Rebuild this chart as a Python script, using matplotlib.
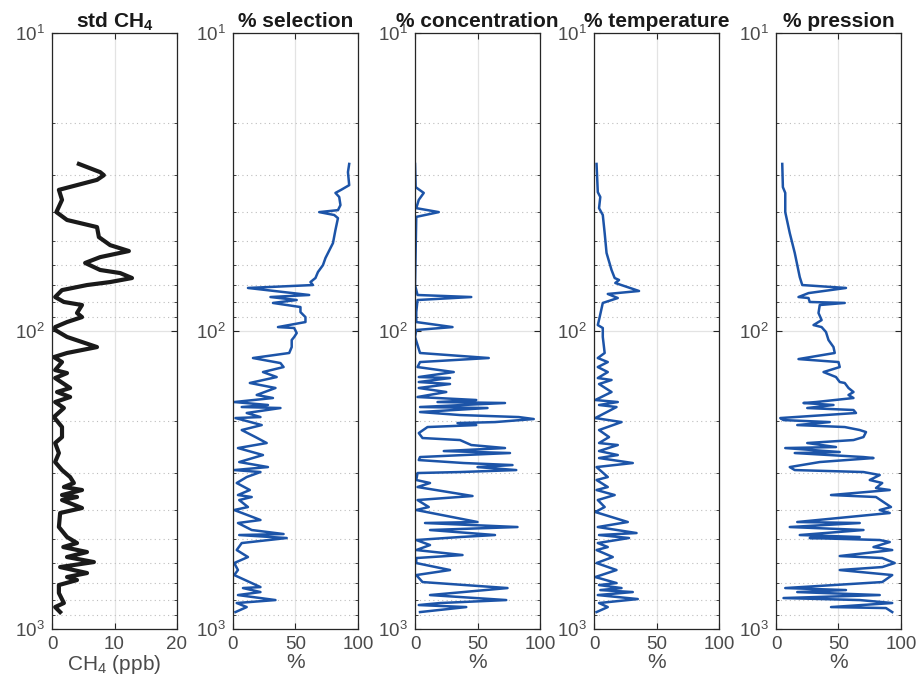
import matplotlib
matplotlib.use('Agg')
import matplotlib.pyplot as plt
from matplotlib.ticker import LogLocator, NullFormatter

plt.rcParams['font.family'] = ['Liberation Sans', 'DejaVu Sans']
plt.rcParams['mathtext.fontset'] = 'custom'
plt.rcParams['mathtext.rm'] = 'Liberation Sans'
plt.rcParams['mathtext.bf'] = 'Liberation Sans:bold'

# pressure levels (hPa) and values
p_std = [27.5, 29.3, 30.0, 31.1, 33.6, 36.3, 39.9, 42.4, 44.8, 48.4, 51.5, 53.9, 56.5,
         59.1, 62.4, 63.9, 66.4, 68.5, 70.1, 72.9, 76.9, 79.9, 81.8, 87.0, 89.8, 93.3,
         97.0, 99.2, 104.7, 113.2, 118.5, 122.3, 127.1, 135.2, 138.4, 143.8, 155.3,
         160.2, 166.5, 173.1, 181.3, 194.4, 210.0, 226.9, 237.6, 256.7, 275.2, 292.8,
         309.0, 323.6, 333.8, 341.6, 355.1, 360.6, 369.1, 392.6, 408.0, 454.7, 491.2,
         514.6, 530.7, 551.6, 573.3, 596.0, 619.5, 648.8, 669.2, 684.9, 711.9, 757.3,
         818.0, 843.9, 877.2]
std_ch4 = [4.3, 7.7, 8.3, 7.2, 1.1, 1.6, 0.7, 2.4, 7.2, 7.5, 9.3, 12.3, 7.7,
           5.3, 7.7, 10.9, 12.8, 9.3, 5.6, 1.6, 0.5, 1.9, 4.8, 4.0, 4.8, 2.4,
           0.5, 0.5, 2.4, 7.2, 2.4, 0.3, 1.6, 0.5, 2.4, 0.5, 2.9,
           0.8, 2.9, 0.5, 1.9, 0.3, 1.6, 1.6, 0.5, 1.1, 0.5, 1.6,
           2.9, 3.5, 1.9, 4.8, 1.6, 4.0, 1.6, 4.8, 1.3, 1.1, 2.4,
           4.0, 1.8, 5.6, 2.4, 6.7, 1.3, 5.6, 2.4, 4.0, 1.1, 1.1,
           1.9, 0.5, 1.3]

p_sel = [27.5, 29.3, 32.4, 33.6, 34.4, 35.5, 37.8, 39.3, 39.9, 40.8, 41.8, 45.8, 50.7,
         56.9, 60.1, 63.4, 66.4, 68.5, 70.1, 71.7, 75.7, 76.9, 78.7, 80.5, 83.1, 86.4,
         89.8, 93.3, 97.0, 97.7, 101.6, 104.7, 107.2, 113.2, 118.5, 123.2, 128.1, 132.1,
         137.3, 142.7, 149.4, 155.3, 163.9, 167.8, 173.1, 177.1, 179.9, 181.3, 188.4,
         194.4, 195.9, 206.8, 214.9, 226.9, 237.6, 247.0, 260.7, 275.2, 286.1, 292.8,
         297.3, 309.0, 323.6, 341.6, 355.1, 360.6, 369.1, 389.6, 398.7, 430.7, 440.8,
         465.3, 480.0, 483.7, 495.0, 514.6, 543.2, 573.3, 600.6, 633.9, 659.0, 723.1,
         728.6, 751.5, 769.1, 799.4, 818.0, 843.9, 877.2]
selection = [93, 92, 93, 86.5, 82, 85, 86, 84, 69, 81, 84, 82, 80,
             74, 72, 68, 66, 62, 64, 12, 61, 30, 51, 32, 54, 54,
             58, 58, 36, 49, 51, 49, 47, 47, 45, 16, 38, 40.5,
             24, 35, 13.5, 34, 19, 32, 1, 28, 7, 38, 11,
             22, 2, 23, 7, 18, 27, 4, 24, 5, 28, 1,
             22, 11, 3, 13.5, 4, 15, 5, 12, 1, 22, 4,
             15, 40.5, 5, 43, 7, 3, 12, 1, 4, 1, 22,
             8, 22, 4, 34, 3, 11, 2]

p_conc = [27.5, 32.9, 34.4, 36.3, 38.7, 39.9, 41.4, 70.1, 75.7, 76.9, 78.7, 86.4, 93.3,
          97.0, 99.2, 104.7, 118.5, 123.2, 127.1, 132.1, 137.3, 142.7, 143.8, 148.3,
          150.6, 155.3, 160.2, 166.5, 170.4, 173.1, 174.4, 179.9, 181.3, 187.0, 191.4,
          194.4, 197.4, 202.1, 203.6, 206.8, 210.0, 220.0, 228.6, 232.2, 241.3, 247.0,
          252.8, 256.7, 260.7, 264.8, 271.0, 277.3, 281.7, 286.1, 292.8, 297.3, 299.6,
          316.2, 323.6, 333.8, 357.8, 369.1, 389.6, 398.7, 437.4, 440.8, 454.7, 465.3,
          483.7, 491.2, 502.7, 522.6, 543.2, 564.5, 577.8, 600.6, 633.9, 659.0, 695.6,
          728.6, 769.1, 799.4, 818.0, 830.8, 843.9, 877.2]
concentration = [0, 0.5, 7, 3, 1, 19, 1, 0, 2, 45, 2, 1, 1,
                 30, 1, 0, 4, 59, 4, 2, 31, 3, 28, 3,
                 28, 3, 25, 2, 49, 18, 72, 4, 58, 4, 36,
                 83, 95, 64, 34, 49, 10, 3, 6, 36, 45, 72,
                 23, 76, 39, 4, 3, 39, 78, 50, 81, 36, 2,
                 1, 12, 2, 46, 2, 11, 1, 50, 8, 82, 12,
                 64, 36, 1, 12, 1, 38, 1, 1, 28, 1, 6,
                 74, 12, 73, 20, 3, 41, 4]

p_temp = [27.5, 34.2, 35.5, 38.7, 40.8, 46.9, 54.7, 62.4, 66.4, 67.4, 69.0, 73.4, 75.1,
          77.5, 80.5, 89.8, 95.5, 97.7, 104.7, 118.5, 123.2, 127.1, 132.1, 137.3, 143.8,
          146.0, 150.6, 160.2, 170.4, 173.1, 177.1, 179.9, 195.9, 202.1, 214.9, 226.9,
          237.6, 241.3, 252.8, 260.7, 266.8, 277.3, 286.1, 309.0, 316.2, 333.8, 341.6,
          355.1, 369.1, 389.6, 404.9, 437.4, 454.7, 476.3, 483.7, 495.0, 514.6, 530.7,
          543.2, 573.3, 600.6, 633.9, 669.2, 701.0, 711.9, 728.6, 740.0, 751.5, 769.1,
          793.2, 818.0, 843.9, 877.2]
temperature = [2, 3, 5, 4, 7, 8.5, 10, 14, 16.5, 20, 17, 36, 11,
               19, 7, 4.5, 3, 7, 7, 8.5, 3, 11, 3, 11, 3,
               14, 4, 14, 1, 19, 4, 18, 1, 22, 4, 12,
               4, 19, 4, 19, 4, 31, 2, 11, 2, 11, 2,
               16.5, 3, 8.5, 1, 27, 3, 34, 4, 28, 3, 11,
               2, 15, 2, 18, 1, 18, 4, 22, 5, 31, 3,
               35, 4, 11, 2]

p_pres = [27.5, 32.9, 34.4, 39.9, 46.9, 54.7, 65.9, 70.1, 71.7, 74.6, 76.9, 77.5, 79.9,
          80.5, 81.8, 87.0, 91.9, 95.5, 97.0, 100.8, 107.2, 113.2, 118.5, 124.2, 127.1,
          132.1, 137.3, 142.7, 148.3, 149.4, 155.3, 160.2, 163.9, 167.8, 173.1, 174.4,
          177.1, 181.3, 184.1, 188.4, 195.9, 199.0, 202.1, 206.8, 210.0, 214.9, 218.3,
          226.9, 232.2, 237.6, 245.1, 247.0, 254.7, 256.7, 264.8, 266.8, 275.2, 286.1,
          292.8, 297.3, 304.3, 316.2, 323.6, 336.4, 341.6, 355.1, 360.6, 389.6, 398.7,
          408.0, 437.4, 440.8, 454.7, 465.3, 483.7, 491.2, 495.0, 502.7, 510.6, 530.7,
          543.2, 568.9, 577.8, 600.6, 619.5, 633.9, 659.0, 695.6, 728.6, 740.0, 751.5,
          769.1, 787.1, 799.4, 818.0, 843.9, 850.4, 877.2]
pression = [5, 5.5, 7.4, 7.4, 11, 15, 19, 21, 56, 26, 18, 26, 27,
            55, 35, 34, 36.5, 30, 36.5, 40, 42, 46, 47, 18, 50,
            51, 38, 48, 51, 55, 58, 62, 58, 62, 32, 22,
            46, 25, 62, 64, 3.4, 6, 43, 17, 55, 67, 72,
            70, 62, 25, 48, 7.4, 51, 15, 70, 78, 35, 11,
            15, 70, 83, 75, 85, 80, 91, 44, 80, 92, 83,
            91, 17, 67, 11, 70, 19, 67, 27, 83, 91, 78,
            93, 51, 85, 95, 85, 51, 93, 85, 7.4, 56, 17,
            83, 6, 67, 93, 44, 88, 93]

titles = ['std CH$_\\mathbf{4}$', '% selection', '% concentration', '% temperature', '% pression']
xlabels = ['CH$_4$ (ppb)', '%', '%', '%', '%']
series = [(std_ch4, p_std), (selection, p_sel), (concentration, p_conc),
          (temperature, p_temp), (pression, p_pres)]
xmaxs = [20, 100, 100, 100, 100]

fig = plt.figure(figsize=(9.19, 6.75), dpi=100)
lefts = [0.0566, 0.2535, 0.4516, 0.6464, 0.8444]

for i, (vals, pres) in enumerate(series):
    ax = fig.add_axes([lefts[i], 0.0681, 0.136, 0.883])
    if i == 0:
        ax.plot(vals, pres, color='#1a1a1a', lw=3)
    else:
        ax.plot(vals, pres, color='#1c54a8', lw=1.8)

    ax.set_yscale('log')
    ax.set_ylim(1000, 10)
    ax.yaxis.set_major_locator(LogLocator(base=10))
    ax.yaxis.set_minor_locator(LogLocator(base=10, subs=range(2, 10)))
    ax.yaxis.set_minor_formatter(NullFormatter())
    ax.set_xlim(0, xmaxs[i])
    ax.set_xticks([0, xmaxs[i] / 2, xmaxs[i]])
    ax.set_xticklabels([str(int(v)) for v in [0, xmaxs[i] / 2, xmaxs[i]]])

    ax.grid(True, which='major', color='#e3e3e3', lw=0.9)
    ax.grid(True, which='minor', axis='y', color='#bdbdbd', ls=(0, (1, 3)), lw=0.8)
    ax.set_axisbelow(True)

    ax.tick_params(which='both', direction='in', top=True, right=True,
                   color='#262626', labelcolor='#4a4a4a', labelsize=13.5, pad=5)
    ax.tick_params(which='major', length=4)
    ax.tick_params(which='minor', length=2.5)
    for s in ax.spines.values():
        s.set_color('#262626')
        s.set_linewidth(0.9)

    ax.set_title(titles[i], fontsize=15, fontweight='bold', color='#1a1a1a', pad=4)
    ax.set_xlabel(xlabels[i], fontsize=15, color='#4a4a4a', labelpad=0)

fig.savefig('out.png', dpi=100)
